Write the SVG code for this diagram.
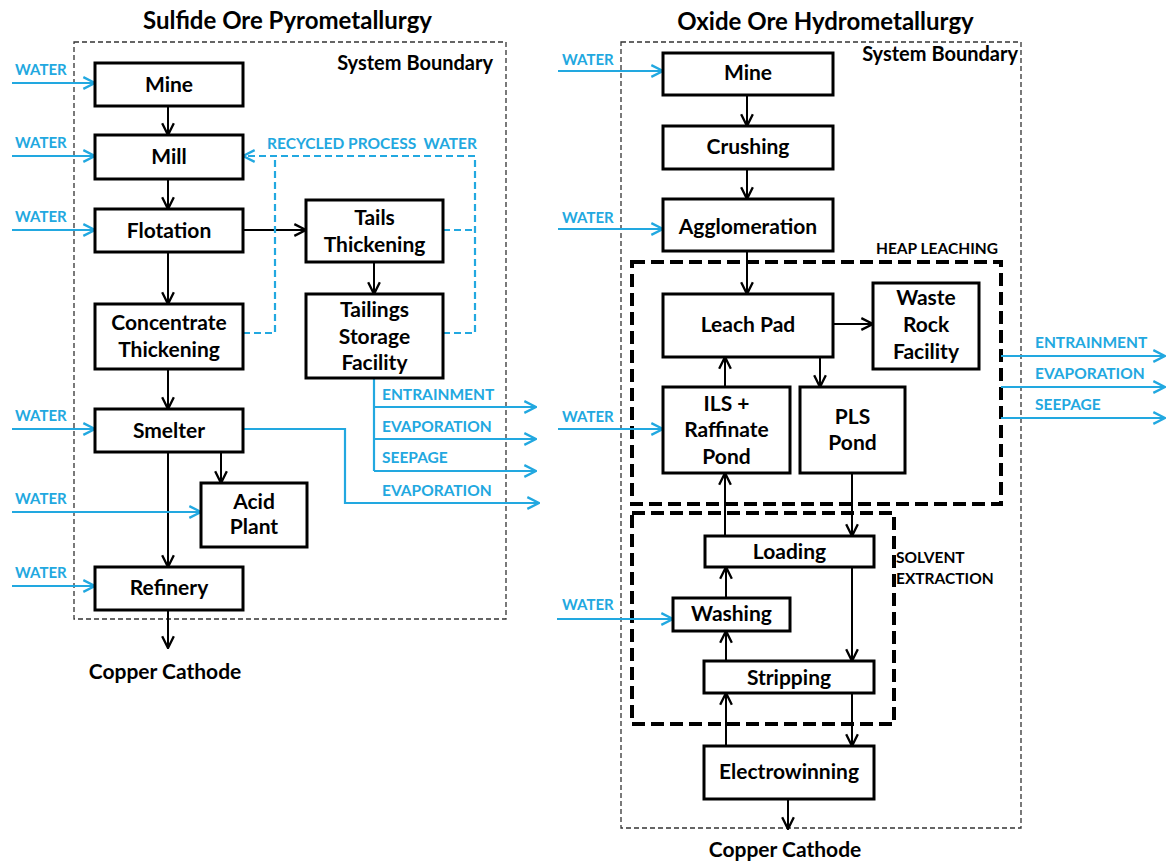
<svg xmlns="http://www.w3.org/2000/svg" width="1167" height="863" viewBox="0 0 1167 863">
<style>
.box{fill:#fff;stroke:#000;stroke-width:3}
.t{font-family:Lato,"Liberation Sans",sans-serif;font-weight:bold;font-size:21px;fill:#000;text-anchor:middle}
.title{font-family:Lato,"Liberation Sans",sans-serif;font-weight:bold;font-size:24px;fill:#000;text-anchor:middle}
.sb{font-family:Lato,"Liberation Sans",sans-serif;font-weight:bold;font-size:20px;fill:#000;text-anchor:end}
.lbl{font-family:Lato,"Liberation Sans",sans-serif;font-weight:bold;font-size:15.5px;fill:#000}
.bl{font-family:Lato,"Liberation Sans",sans-serif;font-weight:bold;font-size:15.5px;fill:#22a8e0}
.w{font-family:Lato,"Liberation Sans",sans-serif;font-weight:bold;font-size:15px;fill:#22a8e0}
.bnd{fill:none;stroke:#333;stroke-width:1.3;stroke-dasharray:5,3}
.heap{fill:none;stroke:#000;stroke-width:4;stroke-dasharray:13,6}
.k{fill:none;stroke:#000;stroke-width:2;marker-end:url(#ak)}
.b{fill:none;stroke:#22a8e0;stroke-width:2.2;marker-end:url(#ab)}
.bn{fill:none;stroke:#22a8e0;stroke-width:2.2}
.bd{fill:none;stroke:#22a8e0;stroke-width:2.2;stroke-dasharray:7,4}
.bda{fill:none;stroke:#22a8e0;stroke-width:2.2;stroke-dasharray:7,4;marker-end:url(#ab)}
</style>
<defs>
<marker id="ak" markerUnits="userSpaceOnUse" markerWidth="14" markerHeight="14" viewBox="0 0 12 12" refX="11" refY="6" orient="auto">
<path d="M1,1 L11,6 L1,11" fill="none" stroke="#000" stroke-width="2"/>
</marker>
<marker id="ab" markerUnits="userSpaceOnUse" markerWidth="14" markerHeight="14" viewBox="0 0 12 12" refX="11" refY="6" orient="auto">
<path d="M1,1 L11,6 L1,11" fill="none" stroke="#22a8e0" stroke-width="2"/>
</marker>
</defs>
<rect width="1167" height="863" fill="#fff"/>

<!-- Titles and boundaries -->
<text class="title" x="287.5" y="29">Sulfide Ore Pyrometallurgy</text>
<text class="title" x="825.5" y="30">Oxide Ore Hydrometallurgy</text>
<rect class="bnd" x="74" y="42" width="432" height="577"/>
<rect class="bnd" x="621" y="42" width="400" height="786"/>
<text class="sb" x="493" y="70">System Boundary</text>
<text class="sb" x="1018" y="61">System Boundary</text>
<rect class="heap" x="632" y="262" width="369" height="242"/>
<rect class="heap" x="632" y="513" width="262" height="211"/>
<text class="lbl" x="876" y="254">HEAP LEACHING</text>
<text class="lbl" x="896" y="563">SOLVENT</text>
<text class="lbl" x="896" y="584">EXTRACTION</text>

<!-- Connectors -->
<g id="connectors">
<path class="k" d="M168,106 V135"/>
<path class="k" d="M168,179 V209"/>
<path class="k" d="M168,252 V304"/>
<path class="k" d="M243,230 H306"/>
<path class="k" d="M374,262 V294"/>
<path class="k" d="M168,369 V409"/>
<path class="k" d="M168,452 V567"/>
<path class="k" d="M221,452 V483"/>
<path class="k" d="M168,610 V648"/>
<path class="b" d="M12,83 H95"/>
<path class="b" d="M12,156 H95"/>
<path class="b" d="M12,230 H95"/>
<path class="b" d="M12,429 H95"/>
<path class="b" d="M12,512 H201"/>
<path class="b" d="M12,586 H95"/>
<path class="bd" d="M243,333 H275 V156"/>
<path class="bd" d="M443,333 H475 V156"/>
<path class="bd" d="M443,230 H475"/>
<path class="bda" d="M475,156 H243"/>
<path class="bn" d="M374,378 V471"/>
<path class="b" d="M374,407 H536"/>
<path class="b" d="M374,439 H536"/>
<path class="b" d="M374,471 H536"/>
<path class="b" d="M243,429 H345 V503 H539"/>
<path class="k" d="M747,95 V126"/>
<path class="k" d="M747,169 V199"/>
<path class="k" d="M747,251 V294"/>
<path class="k" d="M833,324 H873"/>
<path class="k" d="M725,387 V357"/>
<path class="k" d="M820,357 V387"/>
<path class="k" d="M852,473 V536"/>
<path class="k" d="M725,536 V473"/>
<path class="k" d="M726,598 V567"/>
<path class="k" d="M726,661 V631"/>
<path class="k" d="M852,567 V661"/>
<path class="k" d="M852,693 V746"/>
<path class="k" d="M726,746 V693"/>
<path class="k" d="M788,799 V829"/>
<path class="b" d="M558,71 H663"/>
<path class="b" d="M558,229 H663"/>
<path class="b" d="M558,429 H663"/>
<path class="b" d="M557,619 H673"/>
<path class="b" d="M1001,356 H1165"/>
<path class="b" d="M1001,387 H1165"/>
<path class="b" d="M1001,418 H1165"/>
</g>

<!-- blue labels -->
<text class="w" x="15" y="75">WATER</text>
<text class="w" x="15" y="148">WATER</text>
<text class="w" x="15" y="222">WATER</text>
<text class="w" x="15" y="421">WATER</text>
<text class="w" x="15" y="504">WATER</text>
<text class="w" x="15" y="578">WATER</text>
<text class="bl" x="267" y="149" xml:space="preserve">RECYCLED PROCESS  WATER</text>
<text class="bl" x="382" y="400">ENTRAINMENT</text>
<text class="bl" x="382" y="432">EVAPORATION</text>
<text class="bl" x="382" y="463">SEEPAGE</text>
<text class="bl" x="382" y="496">EVAPORATION</text>
<text class="w" x="562" y="65">WATER</text>
<text class="w" x="562" y="223">WATER</text>
<text class="w" x="562" y="422">WATER</text>
<text class="w" x="562" y="610">WATER</text>
<text class="bl" x="1035" y="348">ENTRAINMENT</text>
<text class="bl" x="1035" y="379">EVAPORATION</text>
<text class="bl" x="1035" y="410">SEEPAGE</text>

<!-- Left nodes -->
<g id="l-mine"><rect class="box" x="95" y="63" width="148" height="43"/><text class="t" x="169" y="92">Mine</text></g>
<g id="l-mill"><rect class="box" x="95" y="135" width="148" height="44"/><text class="t" x="169" y="164">Mill</text></g>
<g id="l-flotation"><rect class="box" x="95" y="209" width="148" height="43"/><text class="t" x="169" y="238">Flotation</text></g>
<g id="l-tails"><rect class="box" x="306" y="200" width="137" height="62"/><text class="t" x="374.5" y="225">Tails</text><text class="t" x="374.5" y="252">Thickening</text></g>
<g id="l-conc"><rect class="box" x="95" y="304" width="148" height="65"/><text class="t" x="169" y="330">Concentrate</text><text class="t" x="169" y="357">Thickening</text></g>
<g id="l-tsf"><rect class="box" x="306" y="294" width="137" height="84"/><text class="t" x="374.5" y="317">Tailings</text><text class="t" x="374.5" y="344">Storage</text><text class="t" x="374.5" y="370">Facility</text></g>
<g id="l-smelter"><rect class="box" x="95" y="409" width="148" height="43"/><text class="t" x="169" y="438">Smelter</text></g>
<g id="l-acid"><rect class="box" x="201" y="483" width="106" height="64"/><text class="t" x="254" y="509">Acid</text><text class="t" x="254" y="534">Plant</text></g>
<g id="l-refinery"><rect class="box" x="95" y="567" width="148" height="43"/><text class="t" x="169" y="595">Refinery</text></g>
<g id="l-cathode"><text class="t" x="165" y="679">Copper Cathode</text></g>

<!-- Right nodes -->
<g id="r-mine"><rect class="box" x="663" y="53" width="170" height="42"/><text class="t" x="748" y="80">Mine</text></g>
<g id="r-crushing"><rect class="box" x="663" y="126" width="170" height="43"/><text class="t" x="748" y="154">Crushing</text></g>
<g id="r-agglom"><rect class="box" x="663" y="199" width="170" height="52"/><text class="t" x="748" y="234">Agglomeration</text></g>
<g id="r-leach"><rect class="box" x="663" y="294" width="170" height="63"/><text class="t" x="748" y="332">Leach Pad</text></g>
<g id="r-waste"><rect class="box" x="873" y="283" width="106" height="86"/><text class="t" x="926" y="305">Waste</text><text class="t" x="926" y="332">Rock</text><text class="t" x="926" y="359">Facility</text></g>
<g id="r-ils"><rect class="box" x="663" y="387" width="127" height="86"/><text class="t" x="726.5" y="411">ILS +</text><text class="t" x="726.5" y="437">Raffinate</text><text class="t" x="726.5" y="464">Pond</text></g>
<g id="r-pls"><rect class="box" x="800" y="387" width="105" height="86"/><text class="t" x="852.5" y="424">PLS</text><text class="t" x="852.5" y="450">Pond</text></g>
<g id="r-loading"><rect class="box" x="705" y="536" width="169" height="31"/><text class="t" x="789.5" y="559">Loading</text></g>
<g id="r-washing"><rect class="box" x="673" y="598" width="117" height="33"/><text class="t" x="731.5" y="621">Washing</text></g>
<g id="r-stripping"><rect class="box" x="704" y="661" width="170" height="32"/><text class="t" x="789" y="685">Stripping</text></g>
<g id="r-ew"><rect class="box" x="704" y="746" width="170" height="53"/><text class="t" x="789" y="779">Electrowinning</text></g>
<g id="r-cathode"><text class="t" x="785" y="857">Copper Cathode</text></g>
</svg>
